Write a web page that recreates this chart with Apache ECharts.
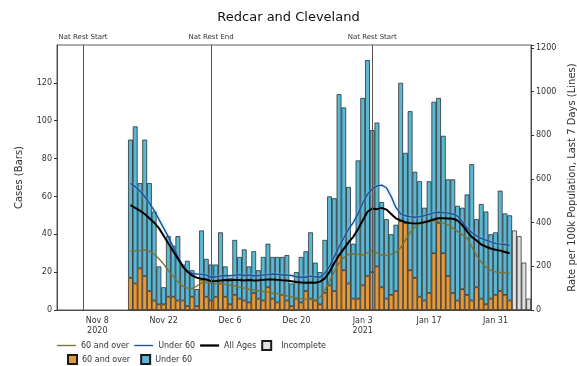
<!DOCTYPE html>
<html><head><meta charset="utf-8">
<script src="https://cdn.jsdelivr.net/npm/echarts@6/dist/echarts.min.js"></script>
<style>html,body{margin:0;padding:0;background:#fff}#c{width:577px;height:366px}</style>
</head><body><div id="c"></div>
<script>
// ---- data ----
const axisStart = '2020-10-31';
const axisDays = 100;
const barStart = '2020-11-15';
const over60Cases = [17,14,22,18,10,5,3,3,7,7,5,5,2,7,2,16,7,5,7,14,7,3,8,6,5,4,9,6,5,12,6,4,8,5,2,6,4,10,6,5,3,9,13,10,29,21,14,6,6,13,18,20,23,12,6,8,10,47,46,21,17,7,5,9,30,46,30,18,9,5,11,8,5,12,6,3,6,8,10,8,5];
const under60Cases = [73,83,45,72,57,47,20,9,32,27,34,19,24,14,9,26,20,19,17,27,16,14,29,22,27,19,22,15,23,23,22,24,20,24,12,14,24,21,35,20,17,28,47,49,85,86,51,29,73,99,114,75,76,45,42,32,35,73,37,84,56,61,49,59,80,66,62,51,60,50,43,53,72,36,50,49,34,33,53,43,45];
const incompleteStart = '2021-02-04';
const incompleteCases = [42,39,25,6];
const rateOver60 = [272,270,272,275,270,255,235,210,180,155,130,110,100,98,110,125,128,122,120,122,118,115,110,105,100,95,92,88,85,82,78,75,70,65,60,55,52,50,48,45,58,90,130,175,215,240,255,258,255,252,262,272,262,252,250,255,265,285,320,355,380,395,400,405,410,405,398,390,375,360,345,330,290,250,220,195,182,175,172,170,167];
const rateUnder60 = [580,565,545,520,490,455,415,375,335,290,245,205,180,168,165,163,160,150,152,155,158,157,160,162,158,160,157,158,160,162,165,163,160,160,158,152,150,150,155,152,150,168,200,245,290,330,370,400,440,490,530,555,568,572,560,520,470,440,432,428,425,428,432,438,445,448,446,444,440,430,405,375,355,340,328,320,312,305,302,300,296];
const rateAll = [480,468,455,440,420,400,375,340,305,270,235,200,175,158,148,143,140,132,133,135,137,136,138,137,135,137,135,136,138,140,140,138,136,135,132,128,126,125,126,125,130,145,175,215,250,280,310,335,370,410,450,465,462,468,460,440,420,410,402,398,396,398,402,408,415,420,420,419,418,410,390,360,335,318,300,290,282,276,272,266,260];
const tickLabels = {'2020-11-08':'Nov 8\n2020','2020-11-22':'Nov 22','2020-12-06':'Dec 6','2020-12-20':'Dec 20','2021-01-03':'Jan 3\n2021','2021-01-17':'Jan 17','2021-01-31':'Jan 31'};
const restrictions = [['2020-11-05','Nat Rest Start'],['2020-12-02','Nat Rest End'],['2021-01-05','Nat Rest Start']];

// ---- build ----
function iso(d){return d.toISOString().slice(0,10);}
const dates = [];
{const d0 = new Date(axisStart+'T00:00:00Z'); for(let i=0;i<axisDays;i++){dates.push(iso(new Date(d0.getTime()+i*86400000)));}}
function place(arr, start){const out = new Array(dates.length).fill(null); const s = dates.indexOf(start); arr.forEach((v,i)=>{out[s+i]=v;}); return out;}

const FONT = 'DejaVu Sans';
const chart = echarts.init(document.getElementById('c'), null, {renderer:'canvas'});
const showTick = (i, v) => tickLabels[v] !== undefined;
const thinLine = 'path://M0,0L20,0L20,1.4L0,1.4Z';
const thickLine = 'path://M0,0L20,0L20,2.4L0,2.4Z';
const box = 'path://M0,0L10,0L10,10L0,10Z';
chart.setOption({
  animation:false,
  backgroundColor:'#fff',
  textStyle:{fontFamily:FONT},
  title:{text:'Redcar and Cleveland', left:'center', top:6, textStyle:{fontFamily:FONT, fontSize:13, fontWeight:'normal', color:'#111'}},
  grid:{left:57, right:46, top:45, bottom:56, show:true, borderColor:'#333', borderWidth:0.8, containLabel:false, outerBoundsMode:'none'},
  legend:[
    {left:57, top:340, padding:0, itemWidth:19, itemHeight:9, itemGap:5, textStyle:{fontFamily:FONT, fontSize:8, color:'#333'},
     formatter: n => n.trim(),
     data:[{name:'60 and over ', icon:thinLine},{name:'Under 60 ', icon:thinLine},{name:'All Ages', icon:thickLine},{name:'Incomplete', icon:box}]},
    {left:67, top:354, padding:0, itemWidth:9, itemHeight:9, itemGap:10, icon:'rect', textStyle:{fontFamily:FONT, fontSize:8, color:'#333'},
     data:['60 and over','Under 60']}
  ],
  xAxis:{type:'category', data:dates, boundaryGap:true,
    axisLine:{lineStyle:{color:'#333', width:0.8}},
    axisTick:{interval:showTick, alignWithLabel:true, length:3, lineStyle:{color:'#333'}},
    axisLabel:{interval:showTick, formatter:v => tickLabels[v] || '', fontSize:8, color:'#333', lineHeight:10, margin:6},
    splitLine:{show:false}},
  yAxis:[
    {type:'value', min:0, max:140, interval:20, name:'Cases (Bars)', nameLocation:'middle', nameGap:33,
     nameTextStyle:{fontFamily:FONT, fontSize:10, color:'#333'},
     axisLine:{show:true, lineStyle:{color:'#333', width:0.8}}, axisTick:{show:true, length:3},
     axisLabel:{fontSize:8, color:'#333', showMaxLabel:false, margin:5}, splitLine:{show:false}},
    {type:'value', min:0, max:1214, interval:200, name:'Rate per 100k Population, Last 7 Days (Lines)', nameLocation:'middle', nameGap:26, nameRotate:90,
     nameTextStyle:{fontFamily:FONT, fontSize:10, color:'#333'},
     axisLine:{show:true, lineStyle:{color:'#333', width:0.8}}, axisTick:{show:true, length:3},
     axisLabel:{fontSize:8, color:'#333', margin:5, formatter:v => (v % 200 === 0 ? String(v) : '')}, splitLine:{show:false}}
  ],
  series:[
    {name:'60 and over', type:'bar', stack:'cases', data:place(over60Cases, barStart), barCategoryGap:'0%',
     itemStyle:{color:'#E39A3B', borderColor:'#1a1a1a', borderWidth:0.7},
     markLine:{silent:true, symbol:['none','none'], animation:false,
       lineStyle:{color:'#555', width:1, type:'solid'},
       label:{show:true, position:'end', fontSize:7, color:'#333', fontFamily:FONT, distance:4},
       data: restrictions.map(r => ({xAxis:r[0], label:{formatter:r[1]}}))}},
    {name:'Under 60', type:'bar', stack:'cases', data:place(under60Cases, barStart), barCategoryGap:'0%',
     itemStyle:{color:'#5BB8D4', borderColor:'#1a1a1a', borderWidth:0.7}},
    {name:'Incomplete', type:'bar', stack:'cases', data:place(incompleteCases, incompleteStart), barCategoryGap:'0%',
     itemStyle:{color:'#E0E0E0', borderColor:'#1a1a1a', borderWidth:0.7}},
    {name:'60 and over ', type:'line', yAxisIndex:1, data:place(rateOver60, barStart), symbol:'none',
     lineStyle:{color:'#7B7230', width:1.4}, itemStyle:{color:'#7B7230'}},
    {name:'Under 60 ', type:'line', yAxisIndex:1, data:place(rateUnder60, barStart), symbol:'none',
     lineStyle:{color:'#1F4F9A', width:1.4, shadowColor:'rgba(120,190,235,0.9)', shadowBlur:3}, itemStyle:{color:'#1F4F9A'}},
    {name:'All Ages', type:'line', yAxisIndex:1, data:place(rateAll, barStart), symbol:'none',
     lineStyle:{color:'#000', width:2}, itemStyle:{color:'#000'}}
  ]
});
</script></body></html>
